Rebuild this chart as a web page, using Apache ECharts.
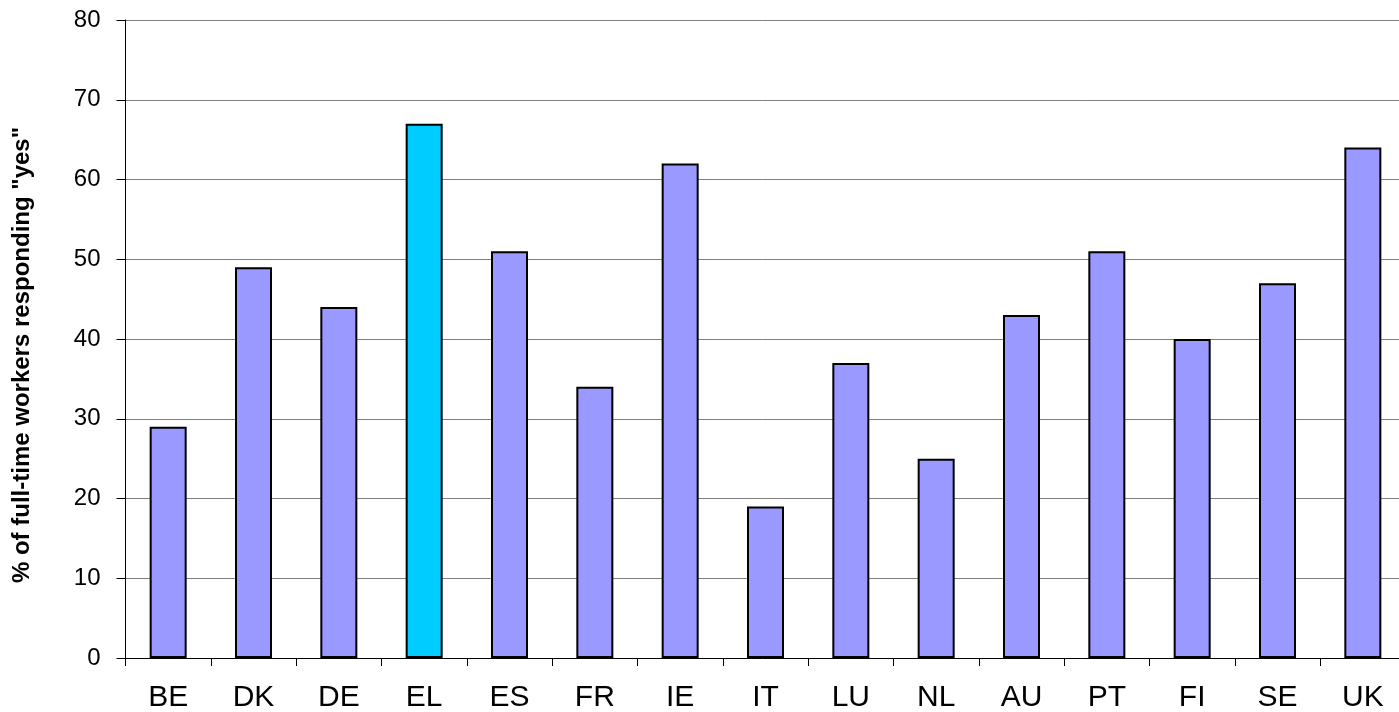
<!DOCTYPE html>
<html>
<head>
<meta charset="utf-8">
<script src="https://cdn.jsdelivr.net/npm/echarts@6/dist/echarts.min.js"></script>
<style>
  html, body { margin: 0; padding: 0; background: #fff; }
  #chart { width: 1399px; height: 712px; }
</style>
</head>
<body>
<div id="chart"></div>
<script>
// countries and share of full-time workers answering "yes"
const countries = ["BE", "DK", "DE", "EL", "ES", "FR", "IE", "IT", "LU", "NL", "AU", "PT", "FI", "SE", "UK"];
const yesShare = [29, 49, 44, 67, 51, 34, 62, 19, 37, 25, 43, 51, 40, 47, 64];
const highlighted = "EL";
const yTitle = '% of full-time workers responding "yes"';

const chart = echarts.init(document.getElementById("chart"));

const option = {
  animation: false,
  // plot runs a little past the right edge of the picture
  grid: { left: 125.5, width: 1280, top: 20, bottom: 54, outerBoundsMode: "none", containLabel: false },
  xAxis: {
    type: "category",
    data: countries,
    axisLine: { lineStyle: { color: "#000", width: 1 } },
    axisTick: { show: true, length: 8, lineStyle: { color: "#000" } },
    axisLabel: {
      color: "#000",
      fontFamily: "Liberation Sans, Arial, sans-serif",
      fontSize: 30,
      margin: 25
    }
  },
  yAxis: {
    type: "value",
    min: 0,
    max: 80,
    interval: 10,
    axisLine: { show: true, lineStyle: { color: "#000", width: 1 } },
    axisTick: { show: true, length: 9, lineStyle: { color: "#000" } },
    splitLine: { lineStyle: { color: "#808080", width: 1 } },
    axisLabel: {
      color: "#000",
      fontFamily: "Liberation Sans, Arial, sans-serif",
      fontSize: 24,
      margin: 25
    }
  },
  graphic: [{
    type: "text",
    x: 22,
    y: 355,
    rotation: Math.PI / 2,
    style: {
      text: yTitle,
      fill: "#000",
      font: "bold 24px 'Liberation Sans', Arial, sans-serif",
      align: "center",
      verticalAlign: "middle"
    }
  }],
  series: [{
    type: "bar",
    barWidth: 37,
    data: yesShare.map((v, i) => ({
      value: v,
      itemStyle: { color: countries[i] === highlighted ? "#00CCFF" : "#9999FF" }
    })),
    itemStyle: { borderColor: "#000", borderWidth: 2 }
  }]
};

chart.setOption(option);
</script>
</body>
</html>
